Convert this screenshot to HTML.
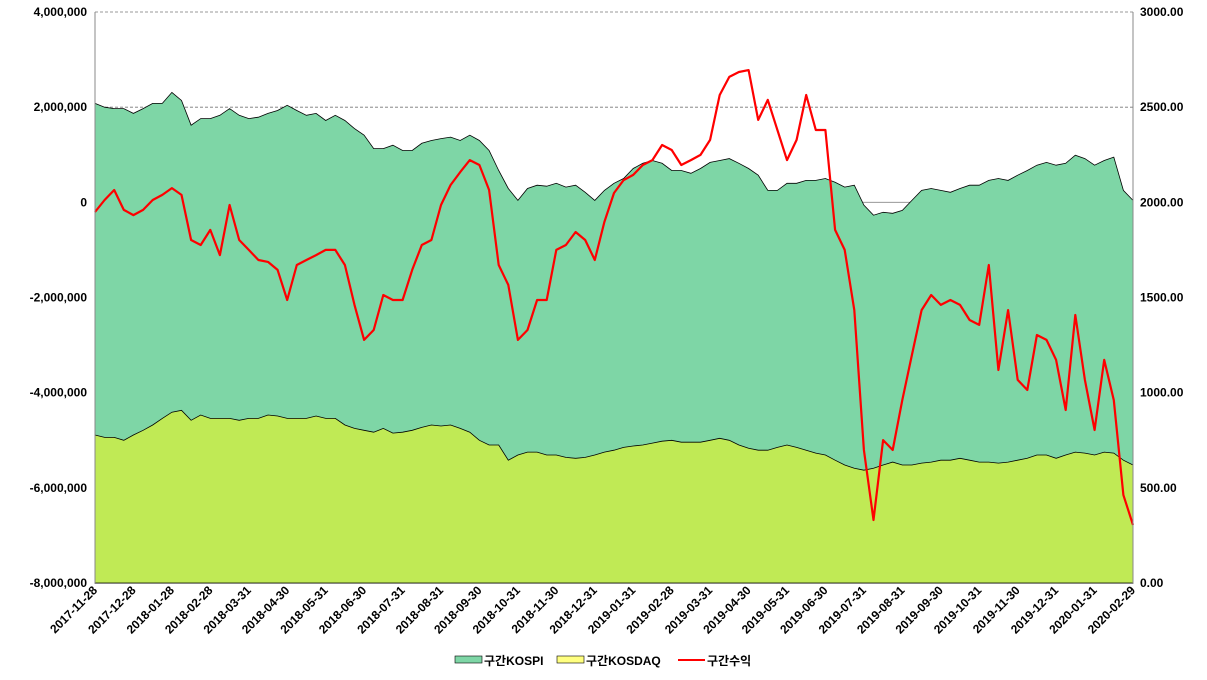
<!DOCTYPE html>
<html><head><meta charset="utf-8"><style>
body{margin:0;background:#fff;font-family:"Liberation Sans","Noto Sans CJK KR",sans-serif}
svg text{font-family:"Liberation Sans","Noto Sans CJK KR",sans-serif;font-weight:bold;font-size:12px;fill:#000}
</style></head><body>
<svg id="c" width="1207" height="675" viewBox="0 0 1207 675"></svg>
<script>
const dateLabels=["2017-11-28","2017-12-28","2018-01-28","2018-02-28","2018-03-31","2018-04-30","2018-05-31","2018-06-30","2018-07-31","2018-08-31","2018-09-30","2018-10-31","2018-11-30","2018-12-31","2019-01-31","2019-02-28","2019-03-31","2019-04-30","2019-05-31","2019-06-30","2019-07-31","2019-08-31","2019-09-30","2019-10-31","2019-11-30","2019-12-31","2020-01-31","2020-02-29"];
const leftTicks=[4000000,2000000,0,-2000000,-4000000,-6000000,-8000000];
const rightTicks=[3000,2500,2000,1500,1000,500,0];
const kospi=[2.08,2.00,1.97,1.97,1.87,1.97,2.08,2.08,2.31,2.14,1.62,1.76,1.76,1.83,1.97,1.83,1.76,1.79,1.87,1.93,2.04,1.93,1.83,1.87,1.72,1.83,1.72,1.55,1.41,1.13,1.13,1.20,1.09,1.09,1.24,1.30,1.34,1.37,1.30,1.41,1.30,1.09,0.67,0.29,0.04,0.29,0.36,0.34,0.40,0.32,0.36,0.21,0.04,0.25,0.40,0.50,0.71,0.82,0.88,0.82,0.67,0.67,0.61,0.71,0.84,0.88,0.92,0.82,0.71,0.57,0.25,0.25,0.40,0.40,0.46,0.46,0.50,0.42,0.32,0.36,-0.06,-0.27,-0.21,-0.23,-0.17,0.04,0.25,0.29,0.25,0.21,0.29,0.36,0.36,0.46,0.50,0.46,0.57,0.67,0.78,0.84,0.78,0.82,0.99,0.92,0.78,0.88,0.95,0.25,0.04];
const kosdaq=[-4.89,-4.94,-4.94,-5.00,-4.89,-4.79,-4.68,-4.54,-4.41,-4.37,-4.58,-4.47,-4.54,-4.54,-4.54,-4.58,-4.54,-4.54,-4.47,-4.49,-4.54,-4.54,-4.54,-4.49,-4.54,-4.54,-4.68,-4.75,-4.79,-4.83,-4.75,-4.85,-4.83,-4.79,-4.73,-4.68,-4.70,-4.68,-4.75,-4.83,-5.00,-5.10,-5.10,-5.42,-5.31,-5.25,-5.25,-5.31,-5.31,-5.36,-5.38,-5.36,-5.31,-5.25,-5.21,-5.15,-5.12,-5.10,-5.06,-5.02,-5.00,-5.04,-5.04,-5.04,-5.00,-4.96,-5.00,-5.10,-5.17,-5.21,-5.21,-5.15,-5.10,-5.15,-5.21,-5.27,-5.31,-5.42,-5.52,-5.59,-5.63,-5.59,-5.52,-5.46,-5.52,-5.52,-5.48,-5.46,-5.42,-5.42,-5.38,-5.42,-5.46,-5.46,-5.48,-5.46,-5.42,-5.38,-5.31,-5.31,-5.38,-5.31,-5.25,-5.27,-5.31,-5.25,-5.27,-5.42,-5.52];
const ret=[1949,2012,2065,1960,1933,1960,2012,2039,2075,2039,1802,1776,1855,1723,1986,1802,1750,1697,1687,1645,1487,1671,1697,1723,1750,1750,1671,1461,1277,1329,1513,1487,1487,1645,1776,1802,1986,2091,2159,2222,2196,2065,1671,1566,1277,1329,1487,1487,1750,1776,1844,1802,1697,1897,2049,2117,2144,2196,2222,2301,2275,2196,2222,2249,2328,2564,2659,2685,2695,2433,2538,2380,2222,2328,2564,2380,2380,1855,1750,1434,699,331,751,699,961,1198,1434,1513,1461,1487,1461,1382,1356,1671,1119,1434,1067,1014,1303,1277,1172,909,1408,1067,804,1172,961,462,305];

const svg=document.getElementById('c');const NS='http://www.w3.org/2000/svg';
const X0=95,X1=1133,Y0=12,Y1=583;
const n=Math.min(kospi.length,kosdaq.length,ret.length);
const xs=i=>X0+(X1-X0)*i/(n-1);
const yL=v=>Y0+(4000000-v)/12000000*(Y1-Y0);
const yR=v=>Y0+(3000-v)/3000*(Y1-Y0);
function mk(t,a,p){const e=document.createElementNS(NS,t);for(const k in a)e.setAttribute(k,a[k]);(p||svg).appendChild(e);return e;}
// grid
leftTicks.forEach((v,i)=>{const y=yL(v);
 const g=mk('line',{x1:X0,x2:X1,y1:y,y2:y,stroke:v===0?'#888':'#777','stroke-width':0.8,'stroke-dasharray':v===0||v===-8000000?'':'3,2'});
 
 const t=mk('text',{x:X0-8,y:y+4,'text-anchor':'end'});t.textContent=v.toLocaleString('en-US');
 
});
rightTicks.forEach(v=>{const t=mk('text',{x:X1+7,y:yR(v)+4});t.textContent=v.toFixed(2);
 });
// areas
function area(vals,fill,name){let d='M'+xs(0)+','+Y1;for(let i=0;i<n;i++)d+='L'+xs(i).toFixed(1)+','+yL(vals[i]*1e6).toFixed(1);d+='L'+xs(n-1)+','+Y1+'Z';
 const p=mk('path',{d:d,fill:fill,stroke:'#000','stroke-width':0.8});}
area(kospi,'#7ed6a6','kospi-area');
area(kosdaq,'#c0ea55','kosdaq-area');
// line
let d='';for(let i=0;i<n;i++)d+=(i?'L':'M')+xs(i).toFixed(1)+','+yR(ret[i]).toFixed(1);
const rl=mk('path',{d:d,fill:'none',stroke:'#ff0000','stroke-width':2.2,'stroke-linejoin':'round'});

// axes
mk('line',{x1:X0,x2:X0,y1:Y0,y2:Y1,stroke:'#888'});mk('line',{x1:X1,x2:X1,y1:Y0,y2:Y1,stroke:'#888'});
dateLabels.forEach((l,i)=>{const x=X0+(X1-X0)*i/(dateLabels.length-1)+3;const y=Y1+8;
 const t=mk('text',{x:x,y:y,'text-anchor':'end',transform:`rotate(-45 ${x} ${y})`,'font-size':'11'});t.textContent=l;
 });
// legend
const lg=mk('g',{});
[['구간KOSPI','#7ed6a6','r'],['구간KOSDAQ','#ffff80','r'],['구간수익','#ff0000','l']].forEach((e,i)=>{
 const x=[455,557,678][i];const y=661;
 if(e[2]==='r'){const r=mk('rect',{x:x,y:y-5,width:27,height:7,fill:e[1],stroke:'#000','stroke-width':0.6},lg);}
 else mk('line',{x1:x,x2:x+27,y1:y-1,y2:y-1,stroke:e[1],'stroke-width':2},lg);
 const t=mk('text',{x:x+29,y:y+4,'font-size':'11'},lg);t.textContent=e[0];
 });
</script>
</body></html>
